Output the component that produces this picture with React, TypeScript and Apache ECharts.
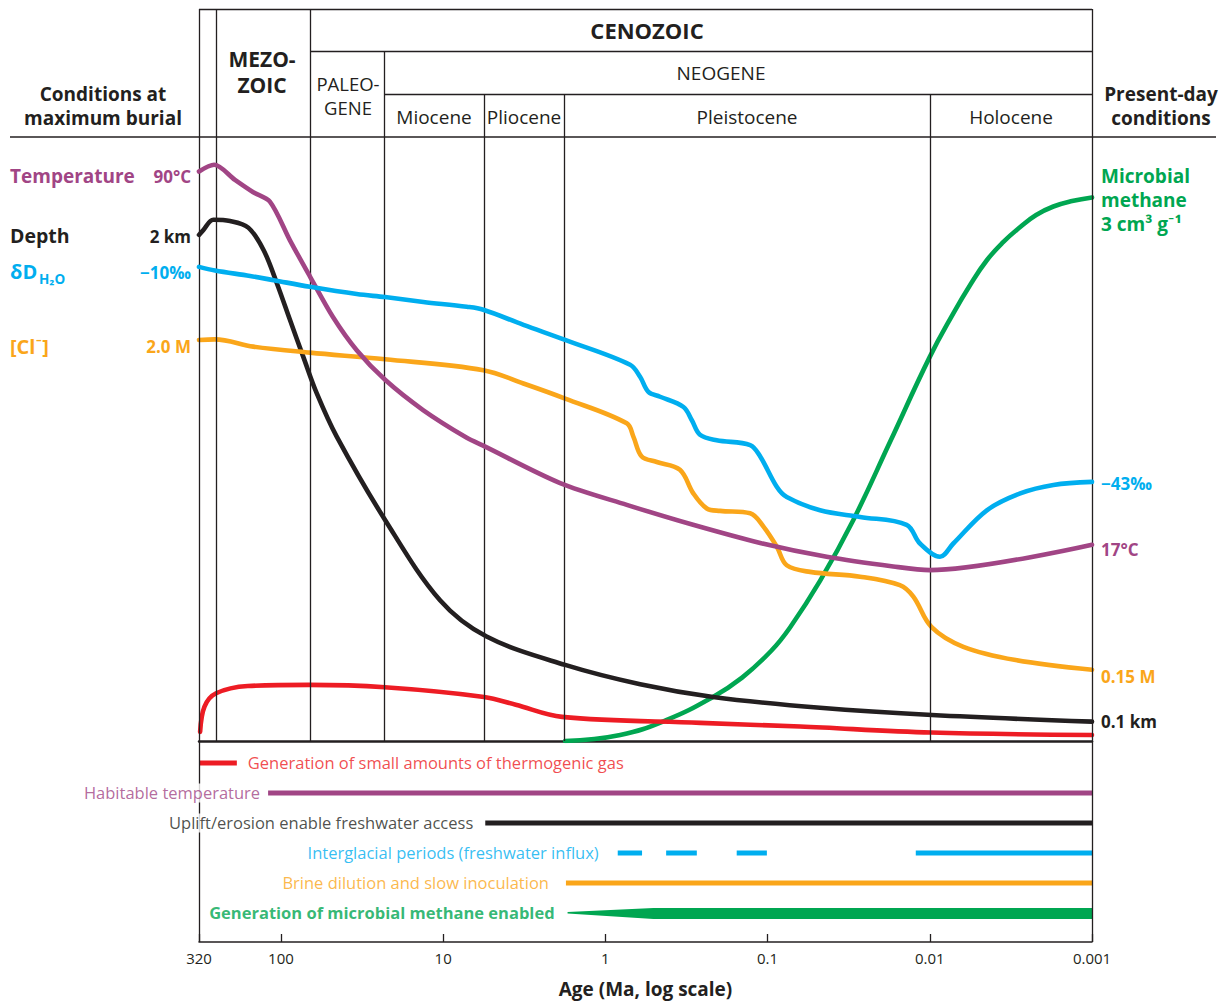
import React, { useEffect, useRef } from 'react';
import * as echarts from 'echarts';

const FONT = '"Open Sans", Lato, "DejaVu Sans", sans-serif';
const INK = '#231F20';
const PURPLE = '#A14585';
const CYAN = '#00AEEF';
const ORANGE = '#FAA61A';
const GREEN = '#00A651';
const RED = '#ED1C24';

// Age axis (Ma, log scale)
const AGE_MIN = 0.001;
const AGE_MAX = 320;

// Relative level of each curve (0 = bottom of plot, 100 = top of plot)
const temperature: [number, number][] = [
  [320, 94.3], [258, 95.4], [192, 92.9], [149, 90.9], [117, 89.3], [88, 82.9], [66.2, 76.9], [47.8, 70.2],
  [34.1, 64.7], [22.8, 59.8], [13.3, 54.8], [7.15, 50.2], [5.67, 48.9], [1.9, 42.7], [0.738, 39.1],
  [0.288, 35.8], [0.111, 32.8], [0.0432, 30.5], [0.0168, 28.9], [0.01, 28.3], [0.001, 32.5],
];
const depth: [number, number][] = [
  [320, 83.8], [301, 84.6], [261, 86.3], [206, 86.1], [159, 85.0], [128, 81.3], [106, 75.8],
  [87.9, 69.7], [72.8, 63.6], [60.2, 57.6], [45.3, 50.4], [22.8, 36.6], [10.45, 23.3], [5.4, 17.3],
  [1.77, 12.6], [0.61, 9.4], [0.217, 7.3], [0.0475, 5.5], [0.0097, 4.3], [0.001, 3.2],
];
const deltaD: [number, number][] = [
  [320, 78.5], [255, 77.9], [155, 77.0], [111, 76.3], [66.2, 75.2], [34.1, 74.0], [22.8, 73.5],
  [13.25, 72.7], [7.15, 71.9], [5.65, 71.4], [3.2, 68.9], [1.77, 66.4], [0.704, 62.3], [0.611, 60.3],
  [0.543, 57.8], [0.46, 57.0], [0.33, 55.3], [0.293, 53.1], [0.261, 50.7], [0.206, 49.8],
  [0.128, 49.0], [0.111, 47.1], [0.0878, 42.1], [0.0762, 40.4], [0.0475, 38.2], [0.0269, 37.1],
  [0.0139, 35.8], [0.0115, 32.7], [0.00865, 30.5], [0.00716, 32.7], [0.00445, 38.2],
  [0.00277, 41.0], [0.00173, 42.4], [0.001, 42.9],
];
const chloride: [number, number][] = [
  [320, 66.4], [255, 66.5], [148, 65.3], [66.2, 64.3], [22.8, 63.2], [5.65, 61.4], [3.2, 59.2],
  [1.77, 56.7], [0.738, 52.6], [0.672, 50.4], [0.597, 47.1], [0.482, 46.2], [0.347, 44.9],
  [0.287, 41.0], [0.237, 38.5], [0.196, 38.1], [0.128, 37.7], [0.106, 35.5], [0.0878, 32.2],
  [0.0762, 29.1], [0.0547, 28.0], [0.0269, 27.2], [0.0153, 25.8], [0.01263, 23.9], [0.00978, 18.9],
  [0.00621, 15.6], [0.002955, 13.4], [0.001, 11.8],
];
const thermogenicGas: [number, number][] = [
  [315, 1.5], [296, 5.7], [251, 7.9], [160, 9.1], [67.1, 9.3], [22.9, 8.9], [5.6, 7.3], [3.57, 6.0],
  [1.85, 4.0], [0.26, 3.0], [0.063, 2.4], [0.0098, 1.4], [0.001, 1.0],
];
const microbialMethane: [number, number][] = [
  [1.77, 0], [0.81, 1.0], [0.418, 3.5], [0.217, 7.3], [0.1436, 10.5], [0.0952, 14.9], [0.0727, 18.8],
  [0.0475, 26.5], [0.0296, 36.6], [0.0176, 49.5], [0.01, 63.6], [0.00716, 70.8],
  [0.00564, 75.5], [0.00445, 79.6], [0.00353, 82.6], [0.00277, 85.1], [0.00221, 87.1],
  [0.00173, 88.5], [0.001327, 89.4], [0.001, 90.0],
];

// Geologic boundaries (Ma)
const boundaryAges = [252, 66, 23, 5.6, 1.8, 0.01];
const boundaryHeaderRow = [0, 0, 1, 2, 2, 2]; // 0 = full height, 1 = below CENOZOIC, 2 = below NEOGENE
const HEAD_TOP = 121.2;
const ROW_CENO = 114.2;
const ROW_NEO = 107.1;
const rowTops = [HEAD_TOP, ROW_CENO, ROW_NEO];

// Timelines (age spans, Ma)
const timelineLabels = [
  'Generation of small amounts of thermogenic gas',
  'Habitable temperature',
  'Uplift/erosion enable freshwater access',
  'Interglacial periods (freshwater influx)',
  'Brine dilution and slow inoculation',
  'Generation of microbial methane enabled',
];
const thermoGasSpan = [320, 187];
const habitableSpan = [120, 0.001];
const upliftSpan = [5.5, 0.001];
const interglacialSpans = [[0.839, 0.594], [0.422, 0.273], [0.155, 0.101], [0.0122, 0.001]];
const brineSpan = [1.75, 0.001];
const methaneWedge = [1.71, 0.505, 0.001]; // tip, full width reached, end

const tickLabel = (v: number) => {
  if (v >= 1) return String(Math.round(v));
  return String(parseFloat(v.toPrecision(1)));
};

function T(x: number, y: number, text: string, o: any = {}) {
  return {
    type: 'text',
    x,
    y,
    silent: true,
    style: {
      text,
      fill: o.fill || INK,
      fontSize: o.size || 19,
      fontWeight: o.bold ? 'bold' : 'normal',
      fontFamily: FONT,
      align: o.align || 'center',
      verticalAlign: 'middle',
      lineHeight: o.lineHeight,
    },
  };
}

function buildOption() {
  const seg = (a: number[], b: number[]) => [{ coord: a }, { coord: b }];
  const frameTop: any[] = [
    seg([AGE_MAX, 0], [AGE_MAX, HEAD_TOP]),
    seg([AGE_MIN, 0], [AGE_MIN, HEAD_TOP]),
    seg([AGE_MAX, HEAD_TOP], [AGE_MIN, HEAD_TOP]),
    seg([66, ROW_CENO], [AGE_MIN, ROW_CENO]),
    seg([23, ROW_NEO], [AGE_MIN, ROW_NEO]),
  ];
  boundaryAges.forEach((a, i) => frameTop.push(seg([a, 0], [a, rowTops[boundaryHeaderRow[i]]])));

  const curve = (name: string, data: [number, number][], color: string, z: number, smooth = 0.35) => ({
    name,
    type: 'line',
    xAxisIndex: 0,
    yAxisIndex: 0,
    data,
    smooth,
    showSymbol: false,
    symbol: 'none',
    silent: true,
    z,
    lineStyle: { color, width: 4.6, cap: 'round', join: 'round' },
  });

  const bar = (name: string, span: number[], row: number, color: string) => ({
    name,
    type: 'line',
    xAxisIndex: 1,
    yAxisIndex: 1,
    data: [[span[0], row], [span[1], row]],
    showSymbol: false,
    symbol: 'none',
    silent: true,
    lineStyle: { color, width: 5, cap: 'butt' },
  });

  const interglacialData: any[] = [];
  interglacialSpans.forEach((s, i) => {
    if (i > 0) interglacialData.push([Math.sqrt(interglacialSpans[i - 1][1] * s[0]), '-']);
    interglacialData.push([s[0], 4], [s[1], 4]);
  });

  const lbl = (value: number[], text: string, color: string, position: string, distance: number, bold = false, knockout = false) => ({
    value,
    label: {
      show: true,
      position,
      distance,
      formatter: text,
      color,
      fontSize: 16.5,
      fontWeight: bold ? 'bold' : 'normal',
      fontFamily: FONT,
      backgroundColor: knockout ? '#ffffff' : 'transparent',
      padding: knockout ? [1, 2] : 0,
    },
  });

  const frameStyle = { color: INK, width: 1.3, type: 'solid' };

  return {
    animation: false,
    textStyle: { fontFamily: FONT },
    grid: [
      { left: 199, top: 9, width: 893, height: 732 },
      { left: 199, top: 741, width: 893, height: 201 },
    ],
    xAxis: [
      {
        type: 'log', logBase: 10, gridIndex: 0, min: AGE_MIN, max: AGE_MAX, inverse: true,
        axisLine: { show: true, onZero: false, lineStyle: { color: INK, width: 2.5 } },
        axisTick: { show: false }, axisLabel: { show: false }, splitLine: { show: false },
      },
      {
        type: 'log', logBase: 10, gridIndex: 1, min: AGE_MIN, max: AGE_MAX, inverse: true,
        interval: 1,
        axisLine: { show: true, onZero: false, lineStyle: { color: INK, width: 1.5 } },
        axisTick: { show: true, inside: true, length: 8, lineStyle: { color: INK, width: 1.3 } },
        axisLabel: {
          show: true, formatter: tickLabel, color: INK, fontSize: 15, fontFamily: FONT, margin: 8,
          showMinLabel: true, showMaxLabel: true,
        },
        splitLine: { show: false },
        name: 'Age (Ma, log scale)',
        nameLocation: 'middle',
        nameGap: 37,
        nameTextStyle: { color: INK, fontSize: 19, fontWeight: 'bold', fontFamily: FONT },
      },
    ],
    yAxis: [
      { type: 'value', gridIndex: 0, min: 0, max: HEAD_TOP, show: false },
      { type: 'value', gridIndex: 1, min: 0.27, max: 6.97, inverse: true, show: false },
    ],
    series: [
      {
        name: 'frame', type: 'line', xAxisIndex: 0, yAxisIndex: 0, data: [[AGE_MAX, 0]],
        symbol: 'none', lineStyle: { width: 0 }, silent: true, z: 1,
        markLine: {
          silent: true, symbol: ['none', 'none'], label: { show: false },
          emphasis: { disabled: true }, lineStyle: frameStyle, data: frameTop,
        },
      },
      {
        name: 'frame2', type: 'line', xAxisIndex: 1, yAxisIndex: 1, data: [[AGE_MAX, 1]],
        symbol: 'none', lineStyle: { width: 0 }, silent: true, z: 1,
        markLine: {
          silent: true, symbol: ['none', 'none'], label: { show: false },
          emphasis: { disabled: true }, lineStyle: frameStyle,
          data: [seg([AGE_MAX, 0.27], [AGE_MAX, 6.97]), seg([AGE_MIN, 0.27], [AGE_MIN, 6.97])],
        },
      },
      curve('Microbial methane', microbialMethane, GREEN, 3, 0.45),
      curve('Thermogenic gas', thermogenicGas, RED, 3),
      curve('Depth', depth, INK, 4),
      curve('[Cl-]', chloride, ORANGE, 4),
      curve('Temperature', temperature, PURPLE, 5, 0.3),
      curve('δD H2O', deltaD, CYAN, 6),
      bar('thermo bar', thermoGasSpan, 1, RED),
      bar('habitable bar', habitableSpan, 2, PURPLE),
      bar('uplift bar', upliftSpan, 3, INK),
      {
        name: 'interglacial bar', type: 'line', xAxisIndex: 1, yAxisIndex: 1, data: interglacialData,
        showSymbol: false, symbol: 'none', silent: true, connectNulls: false,
        lineStyle: { color: CYAN, width: 5, cap: 'butt' },
      },
      bar('brine bar', brineSpan, 5, ORANGE),
      {
        name: 'methane wedge', type: 'custom', xAxisIndex: 1, yAxisIndex: 1, silent: true,
        data: [[methaneWedge[0], methaneWedge[1], methaneWedge[2], 6]],
        encode: { x: [0, 1, 2], y: 3 },
        renderItem: (params: any, api: any) => {
          const tip = api.coord([api.value(0), api.value(3)]);
          const full = api.coord([api.value(1), api.value(3)]);
          const end = api.coord([api.value(2), api.value(3)]);
          return {
            type: 'polygon',
            shape: {
              points: [
                [tip[0], tip[1] - 1], [full[0], full[1] - 5], [end[0], end[1] - 5],
                [end[0], end[1] + 6], [full[0], full[1] + 6], [tip[0], tip[1] + 0.5],
              ],
            },
            style: { fill: GREEN },
          };
        },
      },
      {
        name: 'timeline labels', type: 'scatter', xAxisIndex: 1, yAxisIndex: 1, symbolSize: 0,
        silent: true, clip: false, z: 5,
        data: [
          lbl([thermoGasSpan[1], 1], timelineLabels[0], RED, 'right', 11),
          lbl([habitableSpan[0], 2], timelineLabels[1], PURPLE, 'left', 6, false, true),
          lbl([upliftSpan[0], 3], timelineLabels[2], INK, 'left', 10, false, true),
          lbl([interglacialSpans[0][0], 4], timelineLabels[3], CYAN, 'left', 19),
          lbl([brineSpan[0], 5], timelineLabels[4], ORANGE, 'left', 17),
          lbl([methaneWedge[0], 6], timelineLabels[5], GREEN, 'left', 13, true),
        ],
      },
    ],
    graphic: [
      { type: 'line', silent: true, shape: { x1: 10, y1: 137, x2: 1216, y2: 137 }, style: { stroke: INK, lineWidth: 1.5 } },
      T(103, 106, 'Conditions at\nmaximum burial', { bold: true, size: 19, lineHeight: 24 }),
      T(262, 72, 'MEZO-\nZOIC', { bold: true, size: 21, lineHeight: 26 }),
      T(647, 30, 'CENOZOIC', { bold: true, size: 22 }),
      T(348, 95, 'PALEO-\nGENE', { size: 18.5, lineHeight: 24 }),
      T(721, 73, 'NEOGENE', { size: 19 }),
      T(434, 117, 'Miocene', { size: 19 }),
      T(524, 117, 'Pliocene', { size: 19 }),
      T(747, 117, 'Pleistocene', { size: 19 }),
      T(1011, 117, 'Holocene', { size: 19 }),
      T(1161, 106, 'Present-day\nconditions', { bold: true, size: 19, lineHeight: 24 }),

      T(10, 176, 'Temperature', { bold: true, size: 19, fill: PURPLE, align: 'left' }),
      T(191, 176, '90°C', { bold: true, size: 17, fill: PURPLE, align: 'right' }),
      T(10, 235, 'Depth', { bold: true, size: 19.5, fill: INK, align: 'left' }),
      T(191, 236, '2 km', { bold: true, size: 17, fill: INK, align: 'right' }),
      T(10, 271, 'δD', { bold: true, size: 20, fill: CYAN, align: 'left' }),
      T(39, 279, 'H₂O', { bold: true, size: 13.5, fill: CYAN, align: 'left' }),
      T(191, 272, '−10‰', { bold: true, size: 17, fill: CYAN, align: 'right' }),
      T(10, 346, '[Cl⁻]', { bold: true, size: 20, fill: ORANGE, align: 'left' }),
      T(191, 346, '2.0 M', { bold: true, size: 17, fill: ORANGE, align: 'right' }),

      T(1101, 200, 'Microbial\nmethane\n3 cm³ g⁻¹', { bold: true, size: 19, fill: GREEN, align: 'left', lineHeight: 24 }),
      T(1101, 483, '−43‰', { bold: true, size: 17, fill: CYAN, align: 'left' }),
      T(1101, 549, '17°C', { bold: true, size: 17, fill: PURPLE, align: 'left' }),
      T(1101, 676, '0.15 M', { bold: true, size: 17, fill: ORANGE, align: 'left' }),
      T(1101, 721, '0.1 km', { bold: true, size: 17, fill: INK, align: 'left' }),
    ],
  };
}

export default function App() {
  const ref = useRef<HTMLDivElement>(null);
  useEffect(() => {
    if (!ref.current) return;
    const chart = echarts.init(ref.current, undefined, { renderer: 'svg' });
    chart.setOption(buildOption() as any);
    return () => chart.dispose();
  }, []);
  return (
    <div
      ref={ref}
      style={{ position: 'absolute', left: 0, top: 0, width: 1224, height: 1001, background: '#fff' }}
    />
  );
}
